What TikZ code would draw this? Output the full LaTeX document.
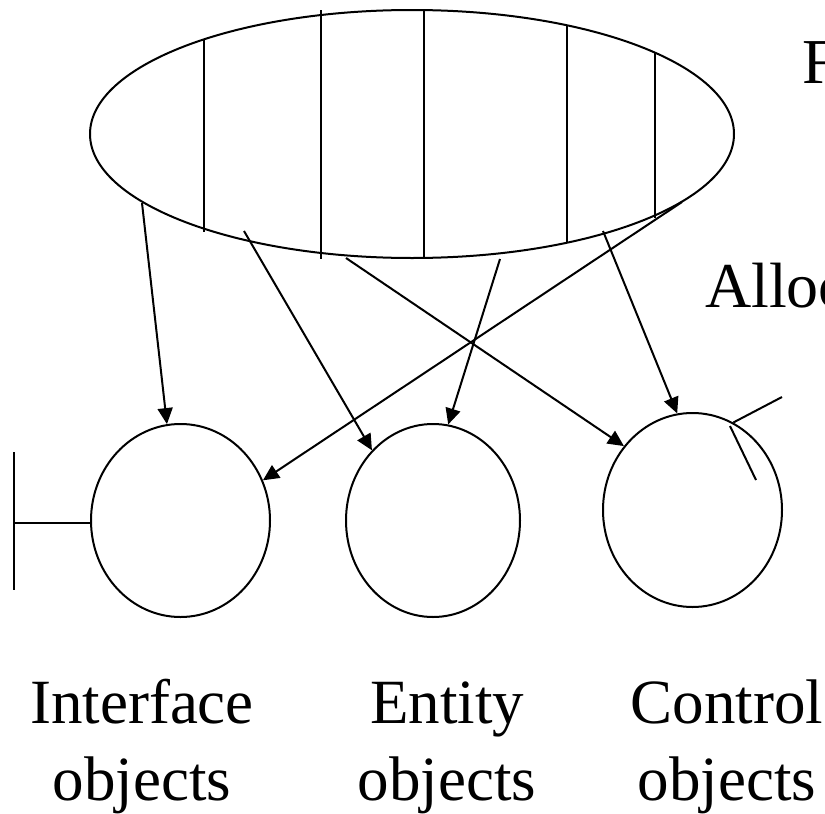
\documentclass[tikz,border=0pt]{standalone}
\usepackage{fontspec}
\setmainfont{Liberation Serif}
\usetikzlibrary{arrows.meta,shapes.geometric}
\tikzset{
  ln/.style={line width=2pt, black},
  obj/.style={ellipse, draw, line width=2pt, inner sep=0pt},
  arr/.style={line width=2pt, -{Triangle[length=16pt,width=15pt]}},
  lbl/.style={font=\fontsize{63}{77}\selectfont, align=center, inner sep=0pt, anchor=base},
  big/.style={font=\fontsize{64}{75}\selectfont, inner sep=0pt, anchor=base west}
}
\begin{document}
\begin{tikzpicture}[x=1pt,y=-1pt]
\useasboundingbox (0,0) rectangle (825,814);
\clip (0,0) rectangle (825,814);
\fill[white] (0,0) rectangle (825,814);
% top ellipse with vertical divisions
\node[obj, minimum width=644pt, minimum height=248pt] (fn) at (412,134) {};
\draw[ln] (204,40) -- (204,232);
\draw[ln] (321,10) -- (321,259);
\draw[ln] (424,10) -- (424,258);
\draw[ln] (567,25) -- (567,243);
\draw[ln] (655,53) -- (655,218);
% object circles
\node[obj, minimum width=179pt, minimum height=193pt] (if) at (180.5,520.5) {};
\node[obj, minimum width=174pt, minimum height=193pt] (en) at (433,520.5) {};
\node[obj, minimum width=179pt, minimum height=194pt] (ct) at (692.5,510) {};
% interface symbol
\coordinate (ifbar) at (14,523);
\draw[ln] (14,452) -- (14,590);
\draw[ln] (if.west |- ifbar) -- (ifbar);
% control symbol
\coordinate (ca) at (782,397);
\coordinate (cb) at (756,480);
\draw[ln] (ct.65) -- (ca);
\draw[ln] (730,426) -- (cb);
% arrow start points
\coordinate (s1) at (142,203);
\coordinate (s2) at (244,231);
\coordinate (s3) at (346,258);
\coordinate (s4) at (500,259);
\coordinate (s5) at (682,202);
\coordinate (s6) at (603,231);
\draw[arr] (s1) -- (if.98);
\draw[arr] (s2) -- (en.131);
\draw[arr] (s3) -- (ct.137);
\draw[arr] (s4) -- (en.81);
\draw[arr] (s5) -- (if.26);
\draw[arr] (s6) -- (ct.99);
% texts
\node[big] (tf) at (802,83) {F};
\node[big] (ta) at (705,307) {Alloc};
\node[lbl] (l1) at (142,800) {Interface\\objects};
\node[lbl] (l2) at (447,800) {Entity\\objects};
\node[lbl] (l3) at (727,800) {Control\\objects};
\end{tikzpicture}
\end{document}
